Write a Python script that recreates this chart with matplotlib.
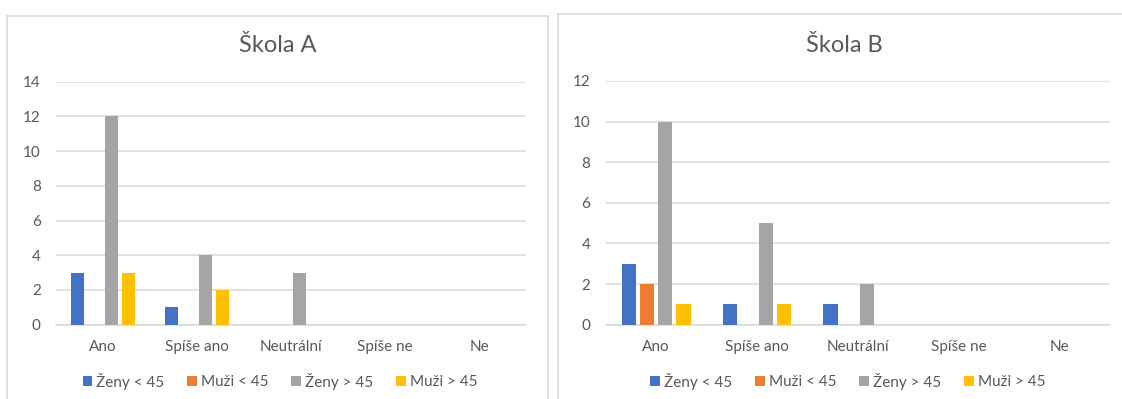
import matplotlib
matplotlib.use("Agg")
import matplotlib.pyplot as plt
from matplotlib.patches import Rectangle
import numpy as np

plt.rcParams['font.family'] = ['Lato', 'DejaVu Sans']

categories = ["Ano", "Spíše ano", "Neutrální", "Spíše ne", "Ne"]
series_names = ["Ženy < 45", "Muži < 45", "Ženy > 45", "Muži > 45"]
colors = ["#4472C4", "#ED7D31", "#A5A5A5", "#FFC000"]

skola_a_zeny_pod45 = [3, 1, 0, 0, 0]
skola_a_muzi_pod45 = [0, 0, 0, 0, 0]
skola_a_zeny_nad45 = [12, 4, 3, 0, 0]
skola_a_muzi_nad45 = [3, 2, 0, 0, 0]

skola_b_zeny_pod45 = [3, 1, 1, 0, 0]
skola_b_muzi_pod45 = [2, 0, 0, 0, 0]
skola_b_zeny_nad45 = [10, 5, 2, 0, 0]
skola_b_muzi_nad45 = [1, 1, 0, 0, 0]

text_col = "#595959"
grid_col = "#D9D9D9"

fig = plt.figure(figsize=(11.22, 3.99), dpi=100)
W, H = 1122, 399


def fx(px):
    return px / W


def fy(py):
    return 1 - py / H


# chart frames
fig.patches.append(Rectangle((fx(7), fy(420)), fx(548) - fx(7), fy(16) - fy(420),
                             transform=fig.transFigure, fill=False,
                             edgecolor=grid_col, lw=1.2))
fig.patches.append(Rectangle((fx(558), fy(420)), fx(1140) - fx(558), fy(14) - fy(420),
                             transform=fig.transFigure, fill=False,
                             edgecolor=grid_col, lw=1.2))


def draw_panel(rect, data, ymax, title, title_x, legend_x):
    ax = fig.add_axes(rect)
    x = np.arange(len(categories))
    step = 0.18
    width = 0.142
    handles = []
    for i, (vals, col, name) in enumerate(zip(data, colors, series_names)):
        b = ax.bar(x + (i - 1.5) * step, vals, width, color=col, label=name, zorder=3)
        handles.append(b)
    ax.set_xlim(-0.5, len(categories) - 0.5)
    ax.set_ylim(0, ymax)
    ax.set_yticks(np.arange(0, ymax + 1, 2))
    ax.set_xticks(x)
    ax.set_xticklabels(categories)
    ax.yaxis.grid(True, color=grid_col, lw=1.1, zorder=0)
    ax.set_axisbelow(True)
    for s in ("top", "right", "left"):
        ax.spines[s].set_visible(False)
    ax.spines["bottom"].set_color(grid_col)
    ax.spines["bottom"].set_linewidth(1.1)
    ax.tick_params(axis="both", length=0, labelsize=11, labelcolor=text_col)
    ax.tick_params(axis="x", pad=11)
    ax.tick_params(axis="y", pad=11)
    fig.text(title_x, fy(45), title, ha="center", va="center",
             fontsize=17, color=text_col)
    fig.legend(handles=handles, labels=series_names, loc="center",
               bbox_to_anchor=(legend_x, fy(381)), ncol=4, frameon=False,
               fontsize=11, handlelength=0.65, handleheight=0.65,
               handletextpad=0.25, columnspacing=1.5, labelcolor=text_col)
    return ax


rect_a = [fx(56), fy(324.7), fx(526) - fx(56), fy(81.7) - fy(324.7)]
rect_b = [fx(605.7), fy(324.7), fx(1110) - fx(605.7), fy(81) - fy(324.7)]

draw_panel(rect_a,
           [skola_a_zeny_pod45, skola_a_muzi_pod45, skola_a_zeny_nad45, skola_a_muzi_nad45],
           14, "Škola A", fx(277.5), fx(280))
draw_panel(rect_b,
           [skola_b_zeny_pod45, skola_b_muzi_pod45, skola_b_zeny_nad45, skola_b_muzi_nad45],
           12, "Škola B", fx(844), fx(848))

fig.savefig("out.png", dpi=100)
